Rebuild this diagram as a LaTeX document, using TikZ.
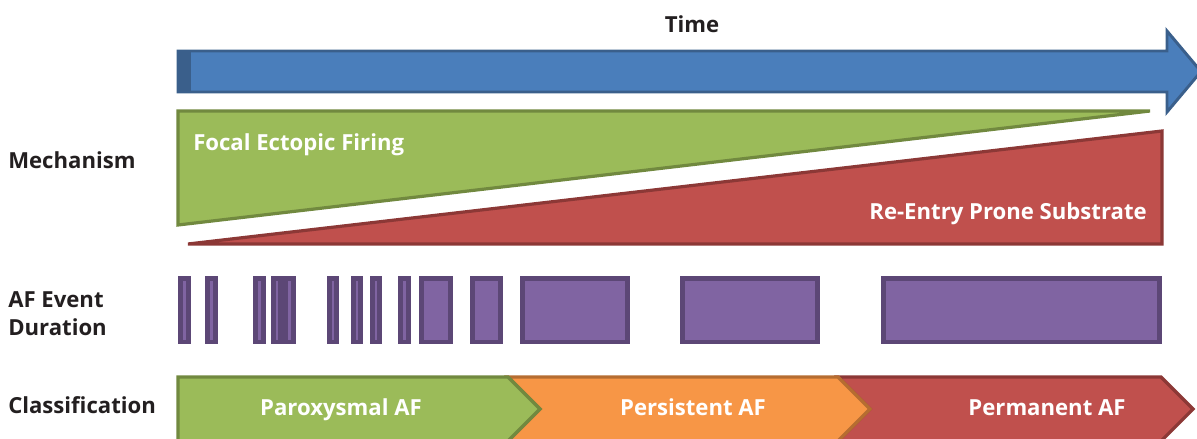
\documentclass[tikz,border=0pt]{standalone}
\usepackage{fontspec}
\setmainfont{Open Sans}
\definecolor{bluefill}{HTML}{4A7EBB}
\definecolor{bluedark}{HTML}{3A5F8B}
\definecolor{greenfill}{HTML}{9BBB59}
\definecolor{greendark}{HTML}{71893F}
\definecolor{redfill}{HTML}{C0504D}
\definecolor{reddark}{HTML}{8C3836}
\definecolor{orangefill}{HTML}{F79646}
\definecolor{orangedark}{HTML}{B66D31}
\definecolor{purplefill}{HTML}{8064A2}
\definecolor{purpledark}{HTML}{5C4776}
\definecolor{labeltext}{HTML}{231F20}
\tikzset{
  rowlabel/.style={font=\fontsize{16.6}{19}\selectfont\bfseries, text=labeltext, inner sep=0pt, anchor=base west, align=left},
  intext/.style={font=\fontsize{16.6}{19}\selectfont\bfseries, text=white, inner sep=0pt},
  eventbar/.style={fill=purplefill, draw=purpledark, line width=3.4pt},
  bluestyle/.style={fill=bluefill, draw=bluedark, line width=2.2pt, line join=miter},
  greenstyle/.style={fill=greenfill, draw=greendark, line width=2.4pt, line join=miter},
  redstyle/.style={fill=redfill, draw=reddark, line width=2.4pt, line join=miter},
  orangestyle/.style={fill=orangefill, draw=orangedark, line width=2.4pt, line join=miter},
}
\begin{document}
\begin{tikzpicture}[x=0.75pt, y=-0.75pt]
\useasboundingbox (0,0) rectangle (1197,439);
\clip (0,0) rectangle (1197,439);
% time arrow
\node[intext, text=labeltext, anchor=base] (time) at (692,32) {Time};
\draw[bluestyle] (178,51) -- (1167,51) -- (1167,31) -- (1201,71.5) -- (1167,112) -- (1167,92) -- (178,92) -- cycle;
\fill[bluedark] (177,50) rectangle (191,93);
% mechanism
\draw[greenstyle] (178,111) -- (1150,111) -- (178,225) -- cycle;
\draw[redstyle] (188,244) -- (1162,131) -- (1162,244) -- cycle;
\node[intext, anchor=base west] (focal) at (193,150) {Focal Ectopic Firing};
\node[intext, anchor=base east] (reentry) at (1147,219) {Re-Entry Prone Substrate};
% labels
\node[rowlabel] (mech) at (8,168) {Mechanism};
\node[rowlabel] (afev) at (8,307) {AF Event};
\node[rowlabel] (dur) at (8,335) {Duration};
\node[rowlabel] (cls) at (8,413) {Classification};
% event bars
\foreach \a/\b in {178/191, 205/218, 253/266, 271/283, 283/296, 327/339, 351/363, 370/382, 398/411, 419/453, 470/503, 520/630, 680/820, 881/1162}{
  \draw[eventbar] (\a+2.25,278.25) rectangle (\b-2.25,342);
}
% classification chevrons
\draw[redstyle] (838,377) -- (1161,377) -- (1193,409) -- (1161,441) -- (838,441) -- (870,409) -- cycle;
\draw[orangestyle] (508,377) -- (838,377) -- (870,409) -- (838,441) -- (508,441) -- (540,409) -- cycle;
\draw[greenstyle] (178,377) -- (508,377) -- (540,409) -- (508,441) -- (178,441) -- cycle;
\node[intext, anchor=base] (parox) at (341,415) {Paroxysmal AF};
\node[intext, anchor=base] (pers) at (693,415) {Persistent AF};
\node[intext, anchor=base] (perm) at (1047,415) {Permanent AF};
\end{tikzpicture}
\end{document}
